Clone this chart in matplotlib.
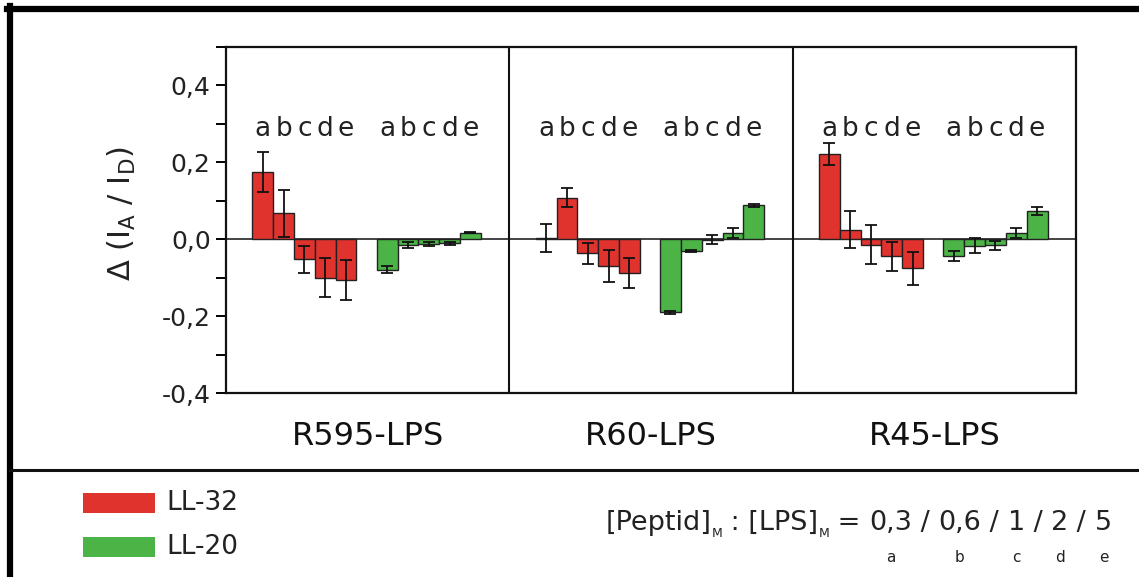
import matplotlib
matplotlib.use("Agg")
import matplotlib.pyplot as plt
import numpy as np
from matplotlib.patches import Rectangle
from matplotlib.lines import Line2D
from matplotlib.transforms import blended_transform_factory

# ---- data ----
groups = ["R595-LPS", "R60-LPS", "R45-LPS"]
ratio_letters = ["a", "b", "c", "d", "e"]
ratio_values = ["0,3", "0,6", "1", "2", "5"]
series_names = ["LL-32", "LL-20"]

ll32_values = [
    [0.175, 0.067, -0.052, -0.100, -0.106],
    [0.003, 0.108, -0.037, -0.069, -0.087],
    [0.222, 0.025, -0.014, -0.044, -0.076],
]
ll32_errors = [
    [0.052, 0.060, 0.035, 0.050, 0.051],
    [0.036, 0.025, 0.028, 0.042, 0.039],
    [0.028, 0.048, 0.050, 0.038, 0.042],
]
ll20_values = [
    [-0.079, -0.015, -0.012, -0.010, 0.017],
    [-0.190, -0.031, -0.001, 0.015, 0.088],
    [-0.044, -0.017, -0.016, 0.015, 0.073],
]
ll20_errors = [
    [0.009, 0.007, 0.006, 0.004, 0.002],
    [0.004, 0.003, 0.012, 0.013, 0.003],
    [0.013, 0.019, 0.012, 0.013, 0.011],
]
yticks = [-0.4, -0.2, 0.0, 0.2, 0.4]
ytick_labels = ["-0,4", "-0,2", "0,0", "0,2", "0,4"]

RED = "#e0332e"
GREEN = "#4cb447"

W, H = 1139, 577
fig = plt.figure(figsize=(W / 100, H / 100), dpi=100)
plt.rcParams['font.family'] = ['DejaVu Sans']
plt.rcParams['mathtext.default'] = 'regular'

def fx(px):
    return px / W

def fy(py):
    return 1 - py / H

ax = fig.add_axes([fx(226), fy(393), fx(1076) - fx(226), fy(47) - fy(393)])
ax.set_xlim(0, 3)
ax.set_ylim(-0.4, 0.5)

bw = 0.0735
red_start = 0.093
green_start = 0.532

for g in range(len(groups)):
    xr = g + red_start + bw * (np.arange(5) + 0.5)
    xg = g + green_start + bw * (np.arange(5) + 0.5)
    ax.bar(xr, ll32_values[g], width=bw, color=RED, edgecolor="#222222", linewidth=1.0, zorder=2)
    ax.bar(xg, ll20_values[g], width=bw, color=GREEN, edgecolor="#222222", linewidth=1.0, zorder=2)
    ax.errorbar(xr, ll32_values[g], yerr=ll32_errors[g], fmt="none", ecolor="#111111",
                elinewidth=1.3, capsize=4.5, capthick=1.3, zorder=3)
    ax.errorbar(xg, ll20_values[g], yerr=ll20_errors[g], fmt="none", ecolor="#111111",
                elinewidth=1.3, capsize=4.5, capthick=1.3, zorder=3)
    for i, lt in enumerate(ratio_letters):
        ax.text(xr[i], 0.288, lt, ha="center", va="center", fontsize=19, color="#222222")
        ax.text(xg[i], 0.288, lt, ha="center", va="center", fontsize=19, color="#222222")
    if g > 0:
        ax.axvline(g, color="#111111", lw=1.5, zorder=4)

ax.axhline(0, color="#111111", lw=1.1, zorder=1)

ax.set_yticks(yticks)
ax.set_yticklabels(ytick_labels, fontsize=18, color="#222222")
ax.set_yticks([-0.3, -0.1, 0.1, 0.3, 0.5], minor=True)
ax.tick_params(axis="y", which="both", direction="out", length=7, width=1.4, pad=4)
ax.set_xticks([])
for s in ax.spines.values():
    s.set_linewidth(1.6)
    s.set_color("#111111")

tr = blended_transform_factory(ax.transData, ax.transAxes)
for g, name in enumerate(groups):
    ax.text(g + 0.5, -0.127, name, transform=tr, ha="center", va="center",
            fontsize=23, color="#111111")

# y label
fig.text(fx(122), fy(214), r"$\Delta$ (I$_{\mathrm{A}}$ / I$_{\mathrm{D}}$)", rotation=90,
         ha="center", va="center", fontsize=22, color="#222222")

# outer frame lines
fig.add_artist(Line2D([fx(7), fx(1139)], [fy(9), fy(9)], color="black", lw=4.5))
fig.add_artist(Line2D([fx(10), fx(10)], [fy(6), fy(577)], color="black", lw=4.5))
fig.add_artist(Line2D([fx(10), fx(1139)], [fy(470), fy(470)], color="#111111", lw=2.2))

# legend
for (name, col, ytop) in [(series_names[0], RED, 493), (series_names[1], GREEN, 537)]:
    fig.add_artist(Rectangle((fx(83), fy(ytop + 20)), fx(155) - fx(83), fy(ytop) - fy(ytop + 20),
                             transform=fig.transFigure, facecolor=col, edgecolor="none"))
    fig.text(fx(166), fy(ytop + 10), name, ha="left", va="center", fontsize=19, color="#222222")

# formula, laid out piece by piece
fig.canvas.draw()
renderer = fig.canvas.get_renderer()
FS = 19.5
pieces = [("[Peptid]", FS, 0), ("M", 9, -7), (" : [LPS]", FS, 0), ("M", 9, -7), (" = ", FS, 0)]
for i, v in enumerate(ratio_values):
    pieces.append((v, FS, 0))
    if i < len(ratio_values) - 1:
        pieces.append((" / ", FS, 0))
base_y = 530
x = 0.0
placed = []
for txt, size, dy in pieces:
    t = fig.text(0, fy(base_y - dy), txt, ha="left", va="baseline", fontsize=size, color="#222222")
    bb = t.get_window_extent(renderer)
    placed.append((t, x, bb.width, txt))
    x += bb.width
total = x
x0 = 1112 - total
num_idx = 0
for t, xo, wdt, txt in placed:
    t.set_x(fx(x0 + xo))
    if txt in ratio_values and num_idx < len(ratio_letters):
        fig.text(fx(x0 + xo + wdt / 2), fy(558), ratio_letters[num_idx], ha="center", va="center",
                 fontsize=11, color="#222222")
        num_idx += 1

fig.savefig("out.png", dpi=100)
